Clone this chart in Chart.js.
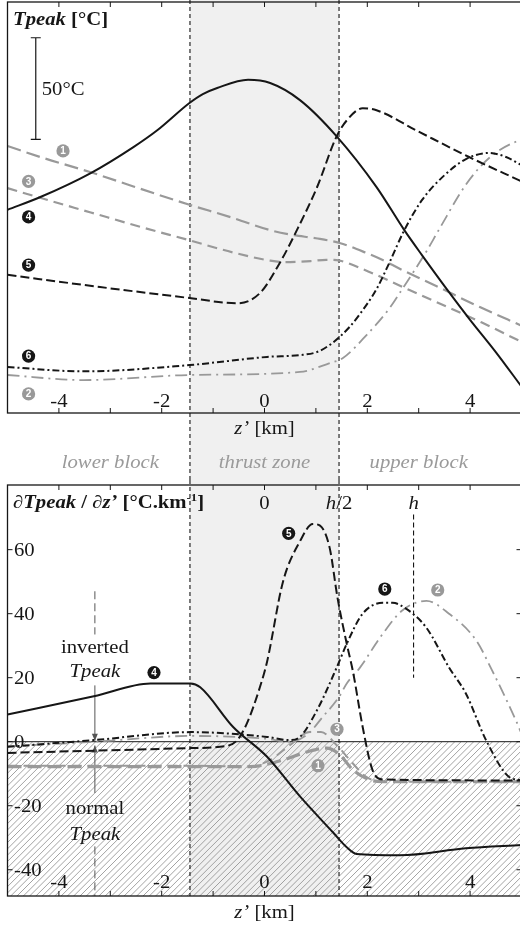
<!DOCTYPE html>
<html>
<head>
<meta charset="utf-8">
<title>Tpeak profiles across the thrust zone</title>
<script src="https://cdn.jsdelivr.net/npm/chart.js@4.4.1/dist/chart.umd.min.js"></script>
<style>
  html, body { margin: 0; padding: 0; background: #fff; overflow: hidden; }
  #wrap { position: relative; width: 520px; height: 926px; overflow: hidden; }
  canvas { position: absolute; left: 0; }
  #topChart { top: 0; }
  #bottomChart { top: 480px; }
</style>
</head>
<body>
<div id="wrap">
  <canvas id="topChart" width="524" height="480"></canvas>
  <canvas id="bottomChart" width="524" height="446"></canvas>
</div>
<script>
// thrust zone thickness h [km], zone goes from -h/2 to h/2
const H = 2.9;
const xTicks = [-4, -2, 0, 2, 4];
const xMinorTicks = [-5, -4, -3, -2, -1, 0, 1, 2, 3, 4, 5];
const yTicksBottom = [60, 40, 20, 0, -20, -40];
const blockLabels = ['lower block', 'thrust zone', 'upper block'];
const blockCentres = [-3, 0, 3];

// top panel: Tpeak, relative °C (no absolute axis in the figure, 50°C bar only)
const t1Z = [-5, -4.3, -3.38, -2.55, -1.77, -1.46, -0.61, 0.11, 0.55, 1.0, 1.46, 1.99, 2.30, 2.63, 3.34, 4.2, 5.0];
const t1T = [131.4, 125.5, 118.5, 111.5, 105, 102.5, 96, 90, 87.6, 86, 83.7, 78.7, 75.3, 71, 62.5, 52, 43];
const t2Z = [-5, -3.52, -1.46, 0.69, 1.27, 1.52, 1.99, 2.43, 2.68, 3.15, 3.40, 3.92, 4.37, 4.89, 5.0];
const t2T = [18.7, 16.2, 18.7, 20.2, 24.6, 27, 38.5, 51.5, 61, 79.5, 90.5, 112.5, 125.5, 133.5, 134];
const t3Z = [-5, -4.35, -3.38, -2.41, -1.46, -0.61, 0.11, 0.36, 0.9, 1.2, 1.46, 1.85, 2.82, 4.23, 5.0];
const t3T = [110.7, 105.8, 98.7, 91.6, 85, 79, 75, 74.3, 74.8, 75.4, 75, 71.5, 60.5, 44.5, 35];
const t4Z = [-5, -4.36, -3.38, -2.55, -2.08, -1.46, -1.2, -0.92, -0.32, 0.11, 0.69, 1.40, 2.18, 2.72, 3.07, 3.59, 3.98, 4.5, 5.0];
const t4T = [100, 106.3, 118.1, 130.9, 139.3, 152.6, 157, 160, 164, 162.4, 154, 136.3, 111.2, 90, 77.5, 59.5, 46.5, 30, 13];
const t5Z = [-5, -3.2, -1.46, -0.53, -0.09, 0.30, 0.63, 1.02, 1.40, 1.60, 1.91, 2.18, 2.96, 3.98, 5.0];
const t5T = [68, 62, 56.6, 54, 59, 74, 90, 111, 136, 144, 150, 149, 139, 126, 114];
const t6Z = [-5, -3.52, -1.46, 0.05, 0.69, 1.02, 1.27, 1.46, 1.66, 1.85, 2.18, 2.43, 2.72, 3.07, 3.50, 3.92, 4.37, 4.7, 5.0];
const t6T = [22.6, 20.5, 23.6, 27.6, 28.5, 30, 33.5, 37.4, 42.5, 48.5, 61, 74, 90, 105, 117, 125, 128, 126, 122];

// bottom panel: dTpeak/dz' [°C/km]
const b1Z = [-5, -1.5, -0.28, 0.36, 0.82, 1.21, 1.46, 1.72, 2.04, 2.30, 5.0];
const b1V = [-7.8, -7.8, -7.8, -5.7, -3.2, -2, -4, -8.8, -11.9, -12.5, -12.5];
const b2Z = [-5, -3.3, -1.44, 0, 0.5, 0.85, 1.13, 1.45, 1.60, 1.85, 2.3, 2.68, 3.15, 3.59, 4.12, 4.43, 4.89, 5.0];
const b2V = [-1.5, 0, 1.8, 1.0, 0, 2.5, 7.7, 14, 18.2, 23, 33.7, 41, 44, 40, 31.6, 22.2, 6.7, 2.5];
const b3Z = [-5, -1.5, -0.3, 0.11, 0.5, 0.88, 1.1, 1.40, 1.66, 1.98, 2.3, 5.0];
const b3V = [-7.5, -7.5, -7.8, -5.7, -1, 3, 3, -1, -5.7, -11, -12.5, -12.5];
const b4Z = [-5, -3.32, -2.22, -1.44, -1.25, -0.61, 0.05, 0.69, 1.33, 1.60, 1.79, 2.63, 3.92, 5.0];
const b4V = [8.5, 14.2, 18.2, 18.2, 17, 4.6, -4.7, -17.1, -28.3, -33, -35.1, -35.5, -33.3, -32.3];
const b5Z = [-5, -3.3, -1.44, -0.73, -0.53, -0.34, -0.09, 0.05, 0.36, 0.69, 0.94, 1.08, 1.27, 1.42, 1.60, 1.72, 1.91, 2.10, 2.30, 5.0];
const b5V = [-3.5, -2.8, -2, -1.3, 0.5, 5.8, 17, 25, 50, 62.6, 68, 67.5, 60.4, 45, 30.6, 22, 4.6, -8.8, -11.8, -12.1];
const b6Z = [-5, -3.32, -1.44, 0.05, 0.49, 0.69, 1.02, 1.40, 1.60, 1.91, 2.30, 2.49, 2.76, 3.15, 3.59, 3.92, 4.31, 4.76, 5.0];
const b6V = [-1.6, 0.5, 3, 1.5, 0.5, 1.5, 9.8, 23, 30.6, 40, 43.4, 43.4, 41.5, 35.6, 23.2, 15, 0.5, -11, -12];

const BLACK = '#161616';
const GREY = '#999999';
const SERIF = '"Liberation Serif", "Times New Roman", serif';
const STRETCH = 1.15;

function pts(zs, vs) {
  return zs.map((z, i) => ({ x: z, y: vs[i] }));
}

function line(zs, vs, color, width, dash) {
  return {
    data: pts(zs, vs),
    borderColor: color,
    borderWidth: width,
    borderDash: dash,
    pointRadius: 0,
    fill: false,
    cubicInterpolationMode: 'monotone',
  };
}

// text made of several runs (roman / italic / bold), slightly widened like the print font
function drawRuns(ctx, parts, x, y, align, color) {
  ctx.save();
  ctx.fillStyle = color || BLACK;
  ctx.textAlign = 'left';
  ctx.textBaseline = 'alphabetic';
  let w = 0;
  parts.forEach((p) => {
    ctx.font = p[1] + ' ' + p[2] + 'px ' + SERIF;
    w += ctx.measureText(p[0]).width;
  });
  ctx.translate(x, y);
  ctx.scale(STRETCH, 1);
  let cx = align === 'center' ? -w / 2 : 0;
  parts.forEach((p) => {
    ctx.font = p[1] + ' ' + p[2] + 'px ' + SERIF;
    ctx.fillText(p[0], cx, p[3] || 0);
    cx += ctx.measureText(p[0]).width;
  });
  ctx.restore();
}

function badge(ctx, x, y, n, fill) {
  ctx.save();
  ctx.fillStyle = fill;
  ctx.beginPath();
  ctx.arc(x, y, 6.6, 0, Math.PI * 2);
  ctx.fill();
  ctx.fillStyle = '#fff';
  ctx.font = 'bold 10px "Liberation Sans", Arial, sans-serif';
  ctx.textAlign = 'center';
  ctx.textBaseline = 'middle';
  ctx.fillText(String(n), x, y + 0.5);
  ctx.restore();
}

function vDashed(ctx, x, y1, y2, dash, color, width) {
  ctx.save();
  ctx.strokeStyle = color;
  ctx.lineWidth = width;
  ctx.setLineDash(dash);
  ctx.beginPath();
  ctx.moveTo(x, y1);
  ctx.lineTo(x, y2);
  ctx.stroke();
  ctx.restore();
}

function arrow(ctx, x, y1, y2, color) {
  ctx.save();
  ctx.strokeStyle = color;
  ctx.fillStyle = color;
  ctx.lineWidth = 1;
  ctx.beginPath();
  ctx.moveTo(x, y1);
  ctx.lineTo(x, y2);
  ctx.stroke();
  const d = y2 > y1 ? 1 : -1;
  ctx.beginPath();
  ctx.moveTo(x, y2);
  ctx.lineTo(x - 3, y2 - d * 7);
  ctx.lineTo(x + 3, y2 - d * 7);
  ctx.closePath();
  ctx.fill();
  ctx.restore();
}

function frame(ctx, a) {
  ctx.save();
  ctx.strokeStyle = BLACK;
  ctx.lineWidth = 1.3;
  ctx.strokeRect(a.left, a.top, a.right - a.left, a.bottom - a.top);
  ctx.restore();
}

function xTickMarks(ctx, chart) {
  const a = chart.chartArea;
  const x = chart.scales.x;
  ctx.save();
  ctx.strokeStyle = BLACK;
  ctx.lineWidth = 1;
  ctx.beginPath();
  xMinorTicks.forEach((t) => {
    const px = x.getPixelForValue(t);
    ctx.moveTo(px, a.top);
    ctx.lineTo(px, a.top + 5);
    ctx.moveTo(px, a.bottom);
    ctx.lineTo(px, a.bottom - 5);
  });
  ctx.stroke();
  ctx.restore();
}

function thrustBand(chart, yBottom) {
  const ctx = chart.ctx;
  const x = chart.scales.x;
  const xl = x.getPixelForValue(-H / 2);
  const xr = x.getPixelForValue(H / 2);
  ctx.save();
  ctx.fillStyle = '#f0f0f0';
  ctx.fillRect(xl, 0, xr - xl, yBottom);
  ctx.restore();
}

function thrustLines(chart, yBottom) {
  const x = chart.scales.x;
  [-H / 2, H / 2].forEach((z) => {
    vDashed(chart.ctx, x.getPixelForValue(z), 0, yBottom, [4, 3], BLACK, 1.1);
  });
}

const topDecor = {
  id: 'topDecor',
  beforeDatasetsDraw(chart) {
    thrustBand(chart, chart.height);
    thrustLines(chart, chart.height);
  },
  afterDatasetsDraw(chart) {
    const ctx = chart.ctx;
    const a = chart.chartArea;
    const x = chart.scales.x;
    const y = chart.scales.y;
    frame(ctx, a);
    xTickMarks(ctx, chart);

    xTicks.forEach((t) => {
      drawRuns(ctx, [[String(t), 'normal', 18]], x.getPixelForValue(t), a.bottom - 6, 'center');
    });
    drawRuns(ctx, [['z’', 'italic', 18], [' [km]', 'normal', 18]], x.getPixelForValue(0), 434, 'center');
    blockLabels.forEach((s, i) => {
      drawRuns(ctx, [[s, 'italic', 18]], x.getPixelForValue(blockCentres[i]), 468, 'center', '#9a9a9a');
    });

    drawRuns(ctx, [['Tpeak', 'italic bold', 18], [' [°C]', 'bold', 18]], 13, 25, 'left');

    // 50 °C scale bar
    const bx = x.getPixelForValue(-4.45);
    const by1 = y.getPixelForValue(134.7);
    const by2 = y.getPixelForValue(184.7);
    ctx.save();
    ctx.strokeStyle = BLACK;
    ctx.lineWidth = 1.2;
    ctx.beginPath();
    ctx.moveTo(bx, by1);
    ctx.lineTo(bx, by2);
    ctx.moveTo(bx - 5, by1);
    ctx.lineTo(bx + 5, by1);
    ctx.moveTo(bx - 5, by2);
    ctx.lineTo(bx + 5, by2);
    ctx.stroke();
    ctx.restore();
    drawRuns(ctx, [['50°C', 'normal', 18]], bx + 6, (by1 + by2) / 2 + 6, 'left');

    const labels = [
      [-3.92, 129, 1, GREY], [-4.59, 114, 3, GREY], [-4.59, 96.5, 4, BLACK],
      [-4.59, 72.8, 5, BLACK], [-4.59, 28, 6, BLACK], [-4.59, 9.4, 2, GREY],
    ];
    labels.forEach((l) => badge(ctx, x.getPixelForValue(l[0]), y.getPixelForValue(l[1]), l[2], l[3]));
  },
};

const bottomDecor = {
  id: 'bottomDecor',
  beforeDatasetsDraw(chart) {
    const ctx = chart.ctx;
    const a = chart.chartArea;
    const x = chart.scales.x;
    const y = chart.scales.y;
    thrustBand(chart, a.bottom);

    // hatched area: negative gradient = normal Tpeak
    const y0 = y.getPixelForValue(0);
    ctx.save();
    ctx.beginPath();
    ctx.rect(a.left, y0, a.right - a.left, a.bottom - y0);
    ctx.clip();
    ctx.strokeStyle = '#8c8c8c';
    ctx.lineWidth = 0.8;
    ctx.beginPath();
    const hgt = a.bottom - y0;
    for (let k = a.left - hgt; k < a.right + 5; k += 6.3) {
      ctx.moveTo(k, a.bottom);
      ctx.lineTo(k + hgt, y0);
    }
    ctx.stroke();
    ctx.restore();

    ctx.save();
    ctx.strokeStyle = BLACK;
    ctx.lineWidth = 1;
    ctx.beginPath();
    ctx.moveTo(a.left, y0);
    ctx.lineTo(a.right, y0);
    ctx.stroke();
    ctx.restore();

    thrustLines(chart, a.bottom);
    // marker at z' = h
    vDashed(ctx, x.getPixelForValue(H), y.getPixelForValue(71), y.getPixelForValue(20), [5, 3], BLACK, 1.1);

    // inverted / normal annotation
    const ax = x.getPixelForValue(-3.3);
    vDashed(ctx, ax, y.getPixelForValue(47), y.getPixelForValue(33.5), [8, 4], '#555', 1);
    vDashed(ctx, ax, y.getPixelForValue(-32.7), a.bottom, [8, 4], '#555', 1);
    arrow(ctx, ax, y.getPixelForValue(17.6), y.getPixelForValue(0.3), '#555');
    arrow(ctx, ax, y.getPixelForValue(-16), y.getPixelForValue(-1.2), '#555');
  },
  afterDatasetsDraw(chart) {
    const ctx = chart.ctx;
    const a = chart.chartArea;
    const x = chart.scales.x;
    const y = chart.scales.y;
    frame(ctx, a);
    xTickMarks(ctx, chart);

    ctx.save();
    ctx.strokeStyle = BLACK;
    ctx.lineWidth = 1;
    ctx.beginPath();
    yTicksBottom.forEach((t) => {
      const py = y.getPixelForValue(t);
      ctx.moveTo(a.left, py);
      ctx.lineTo(a.left + 5, py);
      ctx.moveTo(a.right, py);
      ctx.lineTo(a.right - 5, py);
    });
    ctx.stroke();
    ctx.restore();

    yTicksBottom.forEach((t) => {
      drawRuns(ctx, [[String(t), 'normal', 18]], a.left + 6.5, y.getPixelForValue(t) + 6, 'left');
    });
    xTicks.forEach((t) => {
      drawRuns(ctx, [[String(t), 'normal', 18]], x.getPixelForValue(t), a.bottom - 8, 'center');
    });
    drawRuns(ctx, [['z’', 'italic', 18], [' [km]', 'normal', 18]], x.getPixelForValue(0), 438, 'center');

    // top labels: 0, h/2, h
    const topY = a.top + 24;
    drawRuns(ctx, [['0', 'normal', 18]], x.getPixelForValue(0), topY, 'center');
    drawRuns(ctx, [['h', 'italic', 18], ['/2', 'normal', 18]], x.getPixelForValue(H / 2), topY, 'center');
    drawRuns(ctx, [['h', 'italic', 18]], x.getPixelForValue(H), topY, 'center');

    drawRuns(ctx, [
      ['∂', 'bold', 18], ['Tpeak', 'italic bold', 18], [' / ∂', 'bold', 18],
      ['z’', 'italic bold', 18], [' [°C.km', 'bold', 18], ['-1', 'bold', 11, -7], [']', 'bold', 18],
    ], 13, a.top + 23, 'left');

    const ax = x.getPixelForValue(-3.3);
    drawRuns(ctx, [['inverted', 'normal', 18]], ax, y.getPixelForValue(27.8), 'center');
    drawRuns(ctx, [['Tpeak', 'italic', 18]], ax, y.getPixelForValue(20.1), 'center');
    drawRuns(ctx, [['normal', 'normal', 18]], ax, y.getPixelForValue(-22.6), 'center');
    drawRuns(ctx, [['Tpeak', 'italic', 18]], ax, y.getPixelForValue(-30.6), 'center');

    const labels = [
      [0.47, 65.1, 5, BLACK], [2.34, 47.7, 6, BLACK], [3.37, 47.4, 2, GREY],
      [-2.15, 21.6, 4, BLACK], [1.41, 3.9, 3, GREY], [1.04, -7.5, 1, GREY],
    ];
    labels.forEach((l) => badge(ctx, x.getPixelForValue(l[0]), y.getPixelForValue(l[1]), l[2], l[3]));
  },
};

function baseOptions(yMin, yMax, pad) {
  return {
    responsive: false,
    animation: false,
    events: [],
    layout: { padding: pad },
    plugins: { legend: { display: false }, tooltip: { enabled: false } },
    scales: {
      x: { type: 'linear', min: -5, max: 5, display: false },
      y: { type: 'linear', min: yMin, max: yMax, display: false },
    },
  };
}

new Chart(document.getElementById('topChart'), {
  type: 'line',
  data: {
    datasets: [
      line(t4Z, t4T, BLACK, 2, []),
      line(t5Z, t5T, BLACK, 2, [9, 4]),
      line(t6Z, t6T, BLACK, 2, [7, 3, 2, 3]),
      line(t1Z, t1T, GREY, 2.2, [14, 6]),
      line(t3Z, t3T, GREY, 2.2, [10, 6]),
      line(t2Z, t2T, GREY, 1.8, [12, 5, 2, 5]),
    ],
  },
  options: baseOptions(0, 202.3, { left: 7.5, right: 2.5, top: 2, bottom: 67 }),
  plugins: [topDecor],
});

new Chart(document.getElementById('bottomChart'), {
  type: 'line',
  data: {
    datasets: [
      line(b4Z, b4V, BLACK, 2, []),
      line(b5Z, b5V, BLACK, 2, [9, 4]),
      line(b6Z, b6V, BLACK, 2, [7, 3, 2, 3]),
      line(b3Z, b3V, GREY, 2, [10, 6]),
      line(b2Z, b2V, GREY, 1.8, [12, 5, 2, 5]),
      line(b1Z, b1V, GREY, 3.2, [14, 6]),
    ],
  },
  options: baseOptions(-48.2, 80.2, { left: 7.5, right: 2.5, top: 5, bottom: 30 }),
  plugins: [bottomDecor],
});
</script>
</body>
</html>
